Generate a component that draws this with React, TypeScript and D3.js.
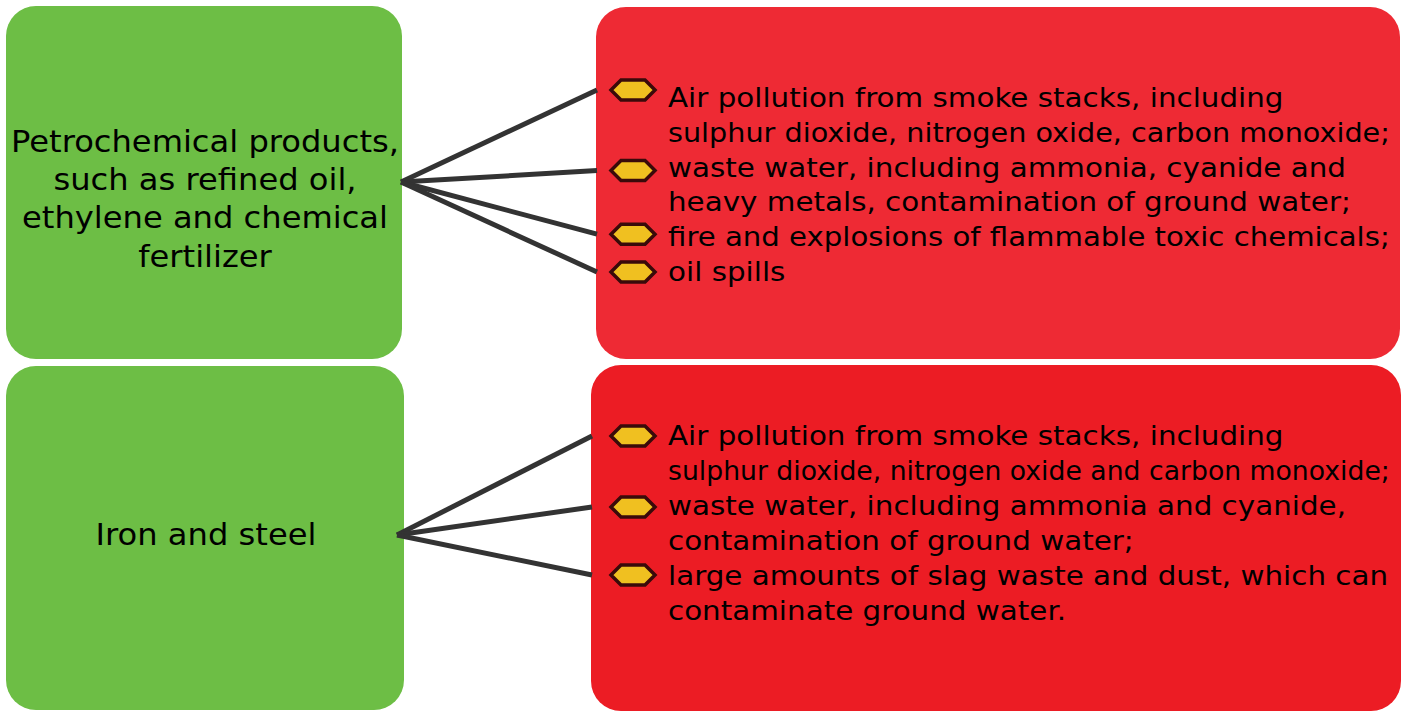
import * as d3 from "d3";
import { useLayoutEffect, useRef } from "react";

// sources (green boxes), one entry per row
const sources = [
  ["Petrochemical products,", "such as refined oil,", "ethylene and chemical", "fertilizer"],
  ["Iron and steel"],
];

// impacts (red boxes): each item is a bullet with its wrapped lines
const petrochemImpacts = [
  ["Air pollution from smoke stacks, including", "sulphur dioxide, nitrogen oxide, carbon monoxide;"],
  ["waste water, including ammonia, cyanide and", "heavy metals, contamination of ground water;"],
  ["fire and explosions of flammable toxic chemicals;"],
  ["oil spills"],
];
const steelImpacts = [
  ["Air pollution from smoke stacks, including", "sulphur dioxide, nitrogen oxide and carbon monoxide;"],
  ["waste water, including ammonia and cyanide,", "contamination of ground water;"],
  ["large amounts of slag waste and dust, which can", "contaminate ground water."],
];
const impacts = [petrochemImpacts, steelImpacts];

const W = 1407;
const H = 711;

const greenBoxes = [
  { x: 6, y: 6, w: 396, h: 353, textCy: 199 },
  { x: 6, y: 366, w: 398, h: 344, textCy: 535 },
];
const redBoxes = [
  { x: 596, y: 7, w: 804, h: 352, fill: "#ee2a34" },
  { x: 591, y: 365, w: 810, h: 346, fill: "#ec1c24" },
];
const hubs = [
  [401, 182],
  [397, 535],
];
// line index -> text line centre, per red box
const lineScales = [
  d3.scaleLinear().domain([0, 5]).range([98, 272]),
  d3.scaleLinear().domain([0, 5]).range([436, 611]),
];
const bulletNudge = [
  [-8, 3, -3, 0],
  [0, 1, -1],
];

const hexPath = (cx: number, cy: number) => {
  const hw = 22;
  const hh = 10;
  const k = 10;
  return d3.line()([
    [cx - hw, cy],
    [cx - hw + k, cy - hh],
    [cx + hw - k, cy - hh],
    [cx + hw, cy],
    [cx + hw - k, cy + hh],
    [cx - hw + k, cy + hh],
  ]) + "Z";
};

const font = "'DejaVu Sans', Verdana, sans-serif";
const redTextX = 668;
const redStretch = 1.13;
const maxLineWidth = 722; // lines longer than this get squeezed, as in the original
const greenStretch = 1.09;

const App = () => {
  const svgRef = useRef<SVGSVGElement>(null);
  const link = d3.line();

  useLayoutEffect(() => {
    d3.select(svgRef.current)
      .selectAll<SVGTextElement, unknown>("text.impact")
      .each(function () {
        const len = this.getComputedTextLength();
        const sx = Math.min(redStretch, maxLineWidth / len);
        d3.select(this).attr("transform", `translate(${redTextX},0) scale(${sx},1)`);
      });
  }, []);

  return (
    <svg ref={svgRef} width={W} height={H} style={{ position: "absolute", left: 0, top: 0 }}>
      {greenBoxes.map((b, i) => (
        <rect key={"g" + i} x={b.x} y={b.y} width={b.w} height={b.h} rx={30} fill="#6dbe45" />
      ))}
      {redBoxes.map((b, i) => (
        <rect key={"r" + i} x={b.x} y={b.y} width={b.w} height={b.h} rx={30} fill={b.fill} />
      ))}

      {sources.map((lines, i) => {
        const b = greenBoxes[i];
        const lh = 38.3;
        const y0 = b.textCy - ((lines.length - 1) * lh) / 2;
        return (
          <text
            key={"s" + i}
            transform={`translate(${b.x + b.w / 2 + 1},0) scale(${greenStretch},1)`}
            fontFamily={font}
            fontSize={29.5}
            textAnchor="middle"
            fill="#000"
          >
            {lines.map((l, j) => (
              <tspan key={j} x={0} y={y0 + j * lh} dy="0.35em">
                {l}
              </tspan>
            ))}
          </text>
        );
      })}

      {impacts.map((items, gi) => {
        const scale = lineScales[gi];
        const box = redBoxes[gi];
        let idx = 0;
        const starts: number[] = [];
        items.forEach((it) => {
          starts.push(idx);
          idx += it.length;
        });
        const [hx, hy] = hubs[gi];
        return (
          <g key={"i" + gi}>
            {items.map((it, k) => {
              const by = scale(starts[k]) + bulletNudge[gi][k];
              return (
                <g key={k}>
                  <path
                    d={link([
                      [hx, hy],
                      [box.x + 1, by],
                    ]) || ""}
                    stroke="#333"
                    strokeWidth={5}
                    fill="none"
                  />
                  <path d={hexPath(633, by)} fill="#f0c020" stroke="#3a0a0a" strokeWidth={3.5} />
                  {it.map((l, j) => (
                    <text
                      key={j}
                      className="impact"
                      transform={`translate(${redTextX},0) scale(${redStretch},1)`}
                      x={0}
                      y={scale(starts[k] + j)}
                      dy="0.35em"
                      fontFamily={font}
                      fontSize={26}
                      fill="#000"
                    >
                      {l}
                    </text>
                  ))}
                </g>
              );
            })}
          </g>
        );
      })}
    </svg>
  );
};

export default App;
